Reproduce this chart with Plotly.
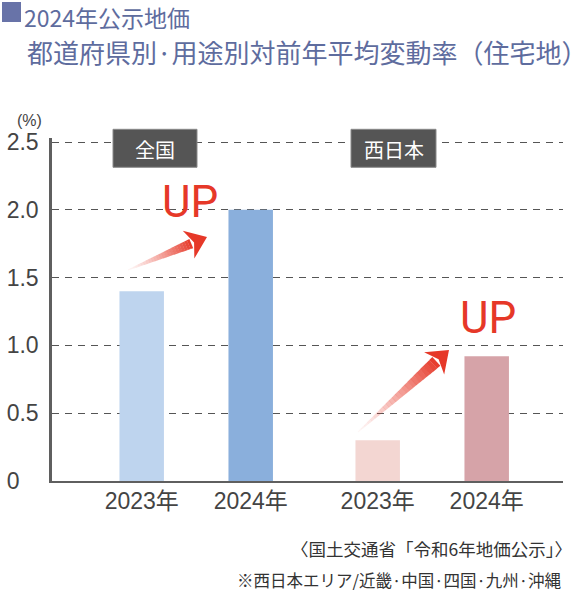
import math
import plotly.graph_objects as go

# data
regions = ["全国", "西日本"]
years = ["2023年", "2024年"]
national = [1.4, 2.0]
west = [0.3, 0.92]
y_ticks = [0, 0.5, 1.0, 1.5, 2.0, 2.5]
y_ticktext = ["0\u2008\u2007", "0.5", "1.0", "1.5", "2.0", "2.5"]

W, H = 588, 592
L, R, T, B = 52, 25, 138, 111
PW, PH = W - L - R, H - T - B

light = ["#BED4EE", "#F3D6D2"]
dark = ["#8AAFDC", "#D6A3A8"]
red = (230, 56, 40)
num_font = "Liberation Sans, Noto Sans CJK JP, sans-serif"
jp_font = "Noto Sans CJK JP, sans-serif"

# bar layout: bars 1 unit apart inside a group, groups 2.165 apart
group_gap = 2.165
xs, vals, cols, labels = [], [], [], []
for g, series in enumerate([national, west]):
    for i, v in enumerate(series):
        xs.append(g * group_gap + i - 0.5)
        vals.append(v)
        cols.append([light, dark][i][g])
        labels.append(years[i])


def px(x, y):
    # pixel position -> paper coords
    return (x - L) / PW, (H - B - y) / PH


def note(text, x, y, size, color, family=jp_font, xanchor="center"):
    ax, ay = px(x, y)
    return dict(text=text, x=ax, y=ay, xref="paper", yref="paper", showarrow=False,
                xanchor=xanchor, yanchor="middle",
                font=dict(family=family, size=size, color=color))


fig = go.Figure(go.Bar(
    x=xs, y=vals, width=0.408,
    marker=dict(color=cols, line=dict(width=0)),
    hoverinfo="skip",
))

shapes = []
annotations = []

# region boxes
for name, (x0, x1) in zip(regions, [(113, 197), (351, 436)]):
    a, b = px(x0, 167.3)
    c, d = px(x1, 129.3)
    shapes.append(dict(type="rect", xref="paper", yref="paper", x0=a, x1=c, y0=b, y1=d,
                       fillcolor="#555555", line=dict(color="#8a8a8a", width=1), layer="above"))
    annotations.append(note(name, (x0 + x1) / 2, 149, 20, "white"))


def gradient_arrow(tail, tip, head_len=17, head_hw=15, w0=0.5, w1=5, n=24):
    dx, dy = tip[0] - tail[0], tip[1] - tail[1]
    ln = math.hypot(dx, dy)
    ux, uy = dx / ln, dy / ln
    nx, ny = -uy, ux
    base = (tip[0] - ux * head_len, tip[1] - uy * head_len)
    shaft = ln - head_len
    for k in range(n):
        t0, t1 = k / n, min((k + 1.05) / n, 1.0)
        pts = []
        for t, s in [(t0, 1), (t1, 1), (t1, -1), (t0, -1)]:
            w = w0 + (w1 - w0) * t
            cx = tail[0] + ux * shaft * t + s * nx * w
            cy = tail[1] + uy * shaft * t + s * ny * w
            pts.append(px(cx, cy))
        alpha = 0.04 + 0.96 * ((k + 0.5) / n) ** 1.3
        path = "M " + " L ".join(f"{p[0]:.5f},{p[1]:.5f}" for p in pts) + " Z"
        shapes.append(dict(type="path", xref="paper", yref="paper", path=path,
                           fillcolor=f"rgba({red[0]},{red[1]},{red[2]},{alpha:.3f})",
                           line=dict(width=0), layer="above"))
    pts = [px(*tip),
           px(base[0] + nx * head_hw - ux * 3, base[1] + ny * head_hw - uy * 3),
           px(base[0] + ux * 3, base[1] + uy * 3),
           px(base[0] - nx * head_hw - ux * 3, base[1] - ny * head_hw - uy * 3)]
    path = "M " + " L ".join(f"{p[0]:.5f},{p[1]:.5f}" for p in pts) + " Z"
    shapes.append(dict(type="path", xref="paper", yref="paper", path=path,
                       fillcolor=f"rgb({red[0]},{red[1]},{red[2]})", line=dict(width=0), layer="above"))


gradient_arrow((128, 270), (207, 237))
gradient_arrow((358, 432), (449, 350), w1=6)

# UP labels
for (x, y) in [(190, 202), (488, 318)]:
    annotations.append(note("UP", x, y, 44, "#E63828", family="Roboto, sans-serif"))

# title block
shapes.append(dict(type="rect", xref="paper", yref="paper",
                   x0=px(2, 0)[0], x1=px(21, 0)[0], y0=px(0, 22)[1], y1=px(0, 2)[1],
                   fillcolor="#6873A8", line=dict(width=0)))
annotations.append(note("2024年公示地価", 22, 17, 23, "#5E6C9E", xanchor="left"))
annotations.append(note("都道府県別·用途別対前年平均変動率（住宅地）", 25, 52, 26, "#5E6C9E",
                        xanchor="left"))

# unit
annotations.append(note("(%)", 29, 120, 16, "#444444", family=num_font))

# footnotes
annotations.append(note("〈国土交通省「令和6年地価公示」〉", 574, 548, 17.5, "#333333", xanchor="right"))
annotations.append(note("※西日本エリア/近畿·中国·四国·九州·沖縄", 563, 580, 16.5, "#333333",
                        xanchor="right"))

fig.update_layout(
    width=W, height=H,
    margin=dict(l=L, r=R, t=T, b=B),
    paper_bgcolor="white", plot_bgcolor="white",
    showlegend=False,
    shapes=shapes, annotations=annotations,
    xaxis=dict(range=[-1.323, 3.365], tickvals=xs, ticktext=labels, automargin=False,
               showgrid=False, zeroline=False, showline=True, linecolor="#5f5f5f", linewidth=2,
               ticks="", ticklabelstandoff=-2,
               tickfont=dict(family=num_font, size=23, color="#444444")),
    yaxis=dict(range=[0, 2.53], tickvals=y_ticks, ticktext=y_ticktext, automargin=False,
               showgrid=True, gridcolor="#555555", gridwidth=1.2, griddash="7px,6px",
               zeroline=False, showline=True, linecolor="#5f5f5f", linewidth=2.5,
               ticks="", ticklabelstandoff=6,
               tickfont=dict(family=num_font, size=23, color="#444444")),
)

fig.write_html("out.html", config={"displayModeBar": False},
               post_script="document.body.style.margin='0';")
